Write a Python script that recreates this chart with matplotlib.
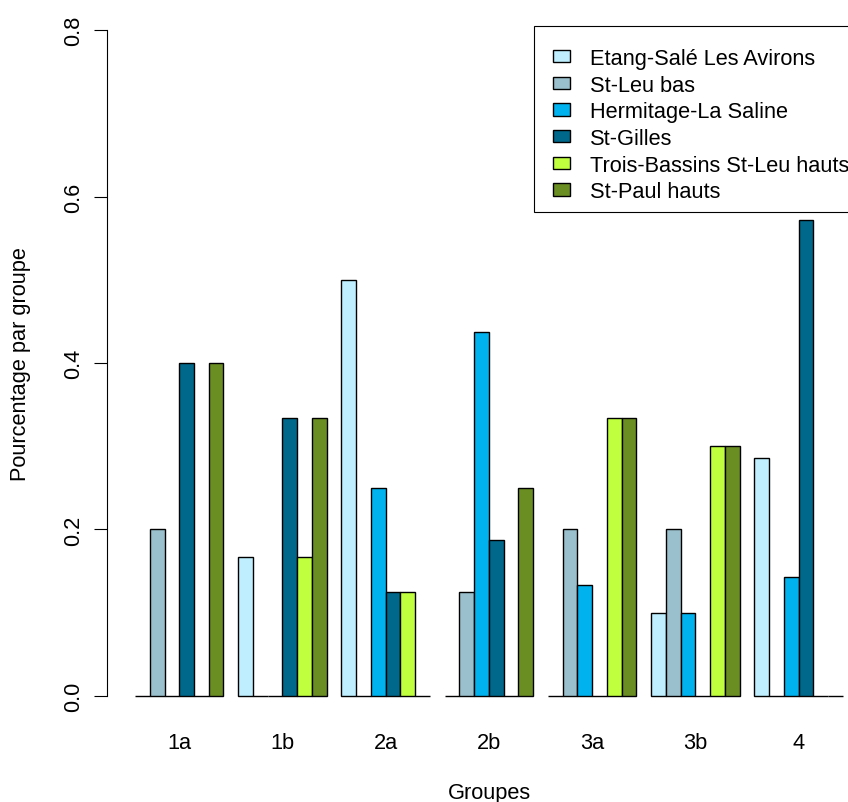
import matplotlib.pyplot as plt
from matplotlib.patches import Rectangle

# Groupes et sites
groups = ["1a", "1b", "2a", "2b", "3a", "3b", "4"]
sites = ["Etang-Salé Les Avirons", "St-Leu bas", "Hermitage-La Saline",
         "St-Gilles", "Trois-Bassins St-Leu hauts", "St-Paul hauts"]
colors = ["#BFEFFF", "#9AC0CD", "#00B2EE", "#00688B", "#C0FF3E", "#6B8E23"]

# Pourcentage par groupe, une liste par site (ordre des groupes)
etang = [0.0, 1/6, 0.5, 0.0, 0.0, 0.1, 2/7]
stleu_bas = [0.2, 0.0, 0.0, 0.125, 0.2, 0.2, 0.0]
hermitage = [0.0, 0.0, 0.25, 0.4375, 2/15, 0.1, 1/7]
stgilles = [0.4, 1/3, 0.125, 0.1875, 0.0, 0.0, 4/7]
trois_bassins = [0.0, 1/6, 0.125, 0.0, 1/3, 0.3, 0.0]
stpaul_hauts = [0.4, 1/3, 0.0, 0.25, 1/3, 0.3, 0.0]

series = [etang, stleu_bas, hermitage, stgilles, trois_bassins, stpaul_hauts]

plt.rcParams["font.family"] = ["Liberation Sans", "DejaVu Sans"]
plt.rcParams["font.size"] = 15.7

W, H = 848, 803
fig = plt.figure(figsize=(W / 100, H / 100), dpi=100)

# R-like barplot (beside=TRUE, space=c(0,1)): bar width 1, 1 gap between groups
nser = len(series)
xmin, xmax = -0.92, 50.92
ymin, ymax = -0.032, 0.832
px_left, px_right = 106.7, 871.2
px_bottom, px_top = 723.6, 4.4
ax = fig.add_axes([px_left / W, 1 - px_bottom / H,
                   (px_right - px_left) / W, (px_bottom - px_top) / H])

centers = []
for g in range(len(groups)):
    start = g * (nser + 1) + 1
    centers.append(start + nser / 2)
    for j, vals in enumerate(series):
        ax.bar(start + j, vals[g], width=1, align="edge", color=colors[j],
               edgecolor="black", linewidth=1.0, label=sites[j] if g == 0 else None)

ax.set_xlim(xmin, xmax)
ax.set_ylim(ymin, ymax)
for s in ["top", "right", "bottom"]:
    ax.spines[s].set_visible(False)
ax.spines["left"].set_bounds(0, 0.8)
ax.spines["left"].set_linewidth(0.8)

ax.set_yticks([0.0, 0.2, 0.4, 0.6, 0.8])
ax.set_yticklabels(["0.0", "0.2", "0.4", "0.6", "0.8"], rotation=90, va="center")
ax.tick_params(axis="y", length=9.4, width=0.8, pad=7)
ax.set_xticks(centers)
ax.set_xticklabels(groups)
ax.tick_params(axis="x", length=0, pad=6.5)

ax.set_xlabel("Groupes", labelpad=21)
ax.set_ylabel("Pourcentage par groupe", labelpad=23)

# legend: frame drawn separately (R style box), entries placed inside
frame = Rectangle((534 / W, 1 - 213 / H), 340 / W, 186 / H, transform=fig.transFigure,
                  facecolor="white", edgecolor="black", linewidth=0.8,
                  zorder=4, clip_on=False)
ax.add_patch(frame)
leg = ax.legend(loc="upper left", bbox_to_anchor=(553 / W, 1 - 49 / H),
                bbox_transform=fig.transFigure, borderaxespad=0, borderpad=0,
                frameon=False, handlelength=0.8, handleheight=0.5,
                handletextpad=0.9, labelspacing=0.26)
leg.set_zorder(6)

fig.savefig("out.png", dpi=100)
